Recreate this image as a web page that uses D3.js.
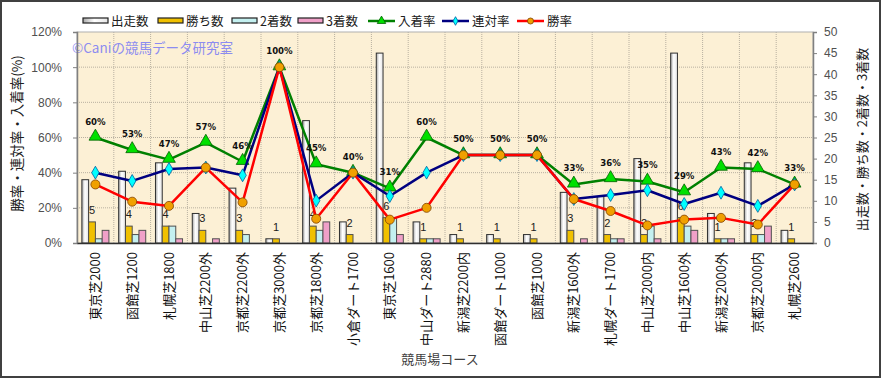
<!DOCTYPE html>
<html>
<head>
<meta charset="utf-8">
<script src="https://cdn.jsdelivr.net/npm/d3@7"></script>
<style>
  body { margin: 0; background: #fff; }
  svg { display: block; font-family: "Noto Sans CJK JP", "Liberation Sans", sans-serif; }
</style>
</head>
<body>
<div id="chart"></div>
<script>
const width = 881
const height = 378
const margin = { top: 32, right: 68, bottom: 135, left: 77 }

const courses = ['東京芝2000', '函館芝1200', '札幌芝1800', '中山芝2200外', '京都芝2200外', '京都芝3000外', '京都芝1800外', '小倉ダート1700', '東京芝1600', '中山ダート2880', '新潟芝2200内', '函館ダート1000', '函館芝1000', '新潟芝1600外', '札幌ダート1700', '中山芝2000内', '中山芝1600外', '新潟芝2000外', '京都芝2000内', '札幌芝2600']
const starts = [15, 17, 19, 7, 13, 1, 29, 5, 45, 5, 2, 2, 2, 12, 11, 20, 45, 7, 19, 3]
const wins = [5, 4, 4, 3, 3, 1, 4, 2, 6, 1, 1, 1, 1, 3, 2, 2, 6, 1, 2, 1]
const seconds = [1, 2, 4, 0, 2, 0, 3, 0, 6, 1, 0, 0, 0, 0, 1, 4, 4, 1, 2, 0]
const thirds = [3, 3, 1, 1, 0, 0, 5, 0, 2, 1, 0, 0, 0, 1, 1, 1, 3, 1, 4, 0]
const winRate = [33.3, 23.5, 21.1, 42.9, 23.1, 100, 13.8, 40, 13.3, 20, 50, 50, 50, 25, 18.2, 10, 13.3, 14.3, 10.5, 33.3]
const rentaiRate = [40, 35.3, 42.1, 42.9, 38.5, 100, 24.1, 40, 26.7, 40, 50, 50, 50, 25, 27.3, 30, 22.2, 28.6, 21.1, 33.3]
const placeRate = [60, 52.9, 47.4, 57.1, 46.2, 100, 44.8, 40, 31.1, 60, 50, 50, 50, 33.3, 36.4, 35, 28.9, 42.9, 42.1, 33.3]
const leftTicks = [0, 20, 40, 60, 80, 100, 120]
const rightTicks = [0, 5, 10, 15, 20, 25, 30, 35, 40, 45, 50]

const barSeries = [
  { key: '出走数', values: starts, fill: 'url(#gradStart)' },
  { key: '勝ち数', values: wins, fill: '#f0c000' },
  { key: '2着数', values: seconds, fill: '#c4f0f0' },
  { key: '3着数', values: thirds, fill: '#f0a0c8' }
]
const lineSeries = [
  { key: '入着率', values: placeRate, line: '#008000', fill: '#00e000', stroke: '#006000', shape: d3.symbolTriangle, size: 70 },
  { key: '連対率', values: rentaiRate, line: '#000080', fill: '#00ffff', stroke: '#0060a0', shape: d3.symbolDiamond, size: 48 },
  { key: '勝率', values: winRate, line: '#ff0000', fill: '#f0a000', stroke: '#804000', shape: d3.symbolCircle, size: 64 }
]

const iw = width - margin.left - margin.right
const ih = height - margin.top - margin.bottom

const svg = d3.select('#chart').append('svg')
  .attr('width', width)
  .attr('height', height)

const defs = svg.append('defs')
const grad = defs.append('linearGradient').attr('id', 'gradStart')
grad.append('stop').attr('offset', '0%').attr('stop-color', '#a8a8a8')
grad.append('stop').attr('offset', '45%').attr('stop-color', '#ffffff')
grad.append('stop').attr('offset', '100%').attr('stop-color', '#e4e4e4')

// outer frame
svg.append('rect')
  .attr('x', 1).attr('y', 1)
  .attr('width', width - 2).attr('height', height - 2)
  .attr('fill', '#fff').attr('stroke', '#404040').attr('stroke-width', 2)

const g = svg.append('g').attr('transform', `translate(${margin.left},${margin.top})`)

const x0 = d3.scaleBand().domain(courses).range([0, iw])
const x1 = d3.scaleBand().domain(barSeries.map(d => d.key)).range([0, x0.bandwidth()]).paddingOuter(0.72)
const yL = d3.scaleLinear().domain([0, 120]).range([ih, 0])
const yR = d3.scaleLinear().domain([0, 50]).range([ih, 0])

g.append('rect')
  .attr('width', iw).attr('height', ih)
  .attr('fill', '#fcf0d5')

// grid
g.append('g').selectAll('line')
  .data(leftTicks.slice(1, -1))
  .join('line')
  .attr('x1', 0).attr('x2', iw)
  .attr('y1', d => yL(d)).attr('y2', d => yL(d))
  .attr('stroke', '#b8b0a0').attr('stroke-dasharray', '1,1')
g.append('g').selectAll('line')
  .data(courses.slice(1))
  .join('line')
  .attr('x1', d => x0(d)).attr('x2', d => x0(d))
  .attr('y1', 0).attr('y2', ih)
  .attr('stroke', '#b8b0a0').attr('stroke-dasharray', '1,1')

g.append('rect')
  .attr('width', iw).attr('height', ih)
  .attr('fill', 'none').attr('stroke', '#b0b0b0')

// watermark
g.append('text')
  .attr('x', -5).attr('y', 21)
  .attr('font-size', 13.5).attr('fill', '#8c8cf0')
  .text('©Caniの競馬データ研究室')

// bars
barSeries.forEach(s => {
  g.append('g').selectAll('rect')
    .data(courses)
    .join('rect')
    .attr('x', (d, i) => x0(d) + x1(s.key))
    .attr('y', (d, i) => yR(s.values[i]))
    .attr('width', x1.bandwidth())
    .attr('height', (d, i) => ih - yR(s.values[i]))
    .attr('fill', s.fill)
    .attr('stroke', s.values === starts ? '#303030' : '#505050')
    .attr('stroke-width', (d, i) => s.values[i] > 0 ? 1 : 0)
})

// win count labels
g.append('g').selectAll('text')
  .data(courses)
  .join('text')
  .attr('x', (d, i) => x0(d) + x1('勝ち数') + x1.bandwidth() / 2)
  .attr('y', (d, i) => yR(wins[i]) - 8)
  .attr('text-anchor', 'middle')
  .attr('font-size', 11)
  .attr('font-family', 'Liberation Sans, sans-serif')
  .attr('fill', '#202020')
  .text((d, i) => wins[i])

// rate lines
const cx = d => x0(d) + x0.bandwidth() / 2
lineSeries.forEach(s => {
  const line = d3.line().x((d, i) => cx(courses[i])).y(d => yL(d))
  g.append('path')
    .datum(s.values)
    .attr('d', line)
    .attr('fill', 'none')
    .attr('stroke', s.line)
    .attr('stroke-width', 2.5)
    .attr('stroke-linejoin', 'round')
  g.append('g').selectAll('path')
    .data(s.values)
    .join('path')
    .attr('transform', (d, i) => `translate(${cx(courses[i])},${yL(d) + (s.shape === d3.symbolTriangle ? -1 : 0)})`)
    .attr('d', d3.symbol().type(s.shape).size(s.size))
    .attr('fill', s.fill)
    .attr('stroke', s.stroke)
    .attr('stroke-width', 0.8)
})

// place rate labels
g.append('g').selectAll('text')
  .data(placeRate)
  .join('text')
  .attr('x', (d, i) => cx(courses[i]))
  .attr('y', d => yL(d) - 13)
  .attr('text-anchor', 'middle')
  .attr('font-size', 9.5)
  .attr('font-weight', 'bold')
  .attr('font-family', 'DejaVu Sans Condensed, DejaVu Sans, sans-serif')
  .attr('fill', '#101010')
  .text(d => Math.round(d) + '%')

// axes
const axisL = g.append('g')
  .call(d3.axisLeft(yL).tickValues(leftTicks).tickSize(4).tickFormat(d => d + '%'))
const axisR = g.append('g')
  .attr('transform', `translate(${iw},0)`)
  .call(d3.axisRight(yR).tickValues(rightTicks).tickSize(4))
const axisB = g.append('g')
  .attr('transform', `translate(0,${ih})`)
  .call(d3.axisBottom(x0).tickSize(0).tickFormat(''))
;[axisL, axisR, axisB].forEach(a => {
  a.select('.domain').attr('stroke', '#808080').attr('stroke-width', 1.5)
  a.selectAll('.tick line').attr('stroke', '#808080')
  a.selectAll('.tick text')
    .attr('font-size', 12)
    .attr('font-family', 'Liberation Sans, sans-serif')
    .attr('fill', '#505050')
})
axisL.selectAll('.tick text').attr('dx', -8)
axisR.selectAll('.tick text').attr('dx', 4)
axisB.select('.domain').attr('stroke', '#303030')

// category labels
g.append('g').selectAll('text')
  .data(courses)
  .join('text')
  .attr('transform', d => `translate(${cx(d) + 4.5},${ih + 9}) rotate(-90)`)
  .attr('text-anchor', 'end')
  .attr('font-size', 13)
  .attr('fill', '#101010')
  .text(d => d)

// axis titles
svg.append('text')
  .attr('transform', `translate(22,${margin.top + ih / 2 - 4}) rotate(-90)`)
  .attr('text-anchor', 'middle')
  .attr('font-size', 13.5)
  .attr('fill', '#202020')
  .text('勝率・連対率・入着率(%)')
svg.append('text')
  .attr('transform', `translate(867,${margin.top + ih / 2 + 2}) rotate(-90)`)
  .attr('text-anchor', 'middle')
  .attr('font-size', 13)
  .attr('fill', '#202020')
  .text('出走数・勝ち数・2着数・3着数')
svg.append('text')
  .attr('x', 440).attr('y', 364)
  .attr('text-anchor', 'middle')
  .attr('font-size', 13)
  .attr('fill', '#404040')
  .text('競馬場コース')

// legend
const legend = svg.append('g').attr('transform', 'translate(83,21)')
const legendX = [0, 75, 149, 215, 285, 359, 434]
barSeries.forEach((s, i) => {
  const lg = legend.append('g').attr('transform', `translate(${legendX[i]},0)`)
  lg.append('rect')
    .attr('x', 0).attr('y', -3).attr('width', 25).attr('height', 5)
    .attr('fill', s.fill).attr('stroke', '#202020').attr('stroke-width', 1.2)
  lg.append('text')
    .attr('x', 28).attr('y', 5)
    .attr('font-size', 12.5).attr('fill', '#202020')
    .text(s.key)
})
lineSeries.forEach((s, i) => {
  const lg = legend.append('g').attr('transform', `translate(${legendX[i + 4]},0)`)
  lg.append('line')
    .attr('x1', 0).attr('x2', 27).attr('y1', 0).attr('y2', 0)
    .attr('stroke', s.line).attr('stroke-width', 2.5)
  lg.append('path')
    .attr('transform', 'translate(13.5,0)')
    .attr('d', d3.symbol().type(s.shape).size(s.size * 0.45))
    .attr('fill', s.fill).attr('stroke', s.stroke).attr('stroke-width', 0.8)
  lg.append('text')
    .attr('x', 30).attr('y', 5)
    .attr('font-size', 12.5).attr('fill', '#202020')
    .text(s.key)
})
</script>
</body>
</html>
